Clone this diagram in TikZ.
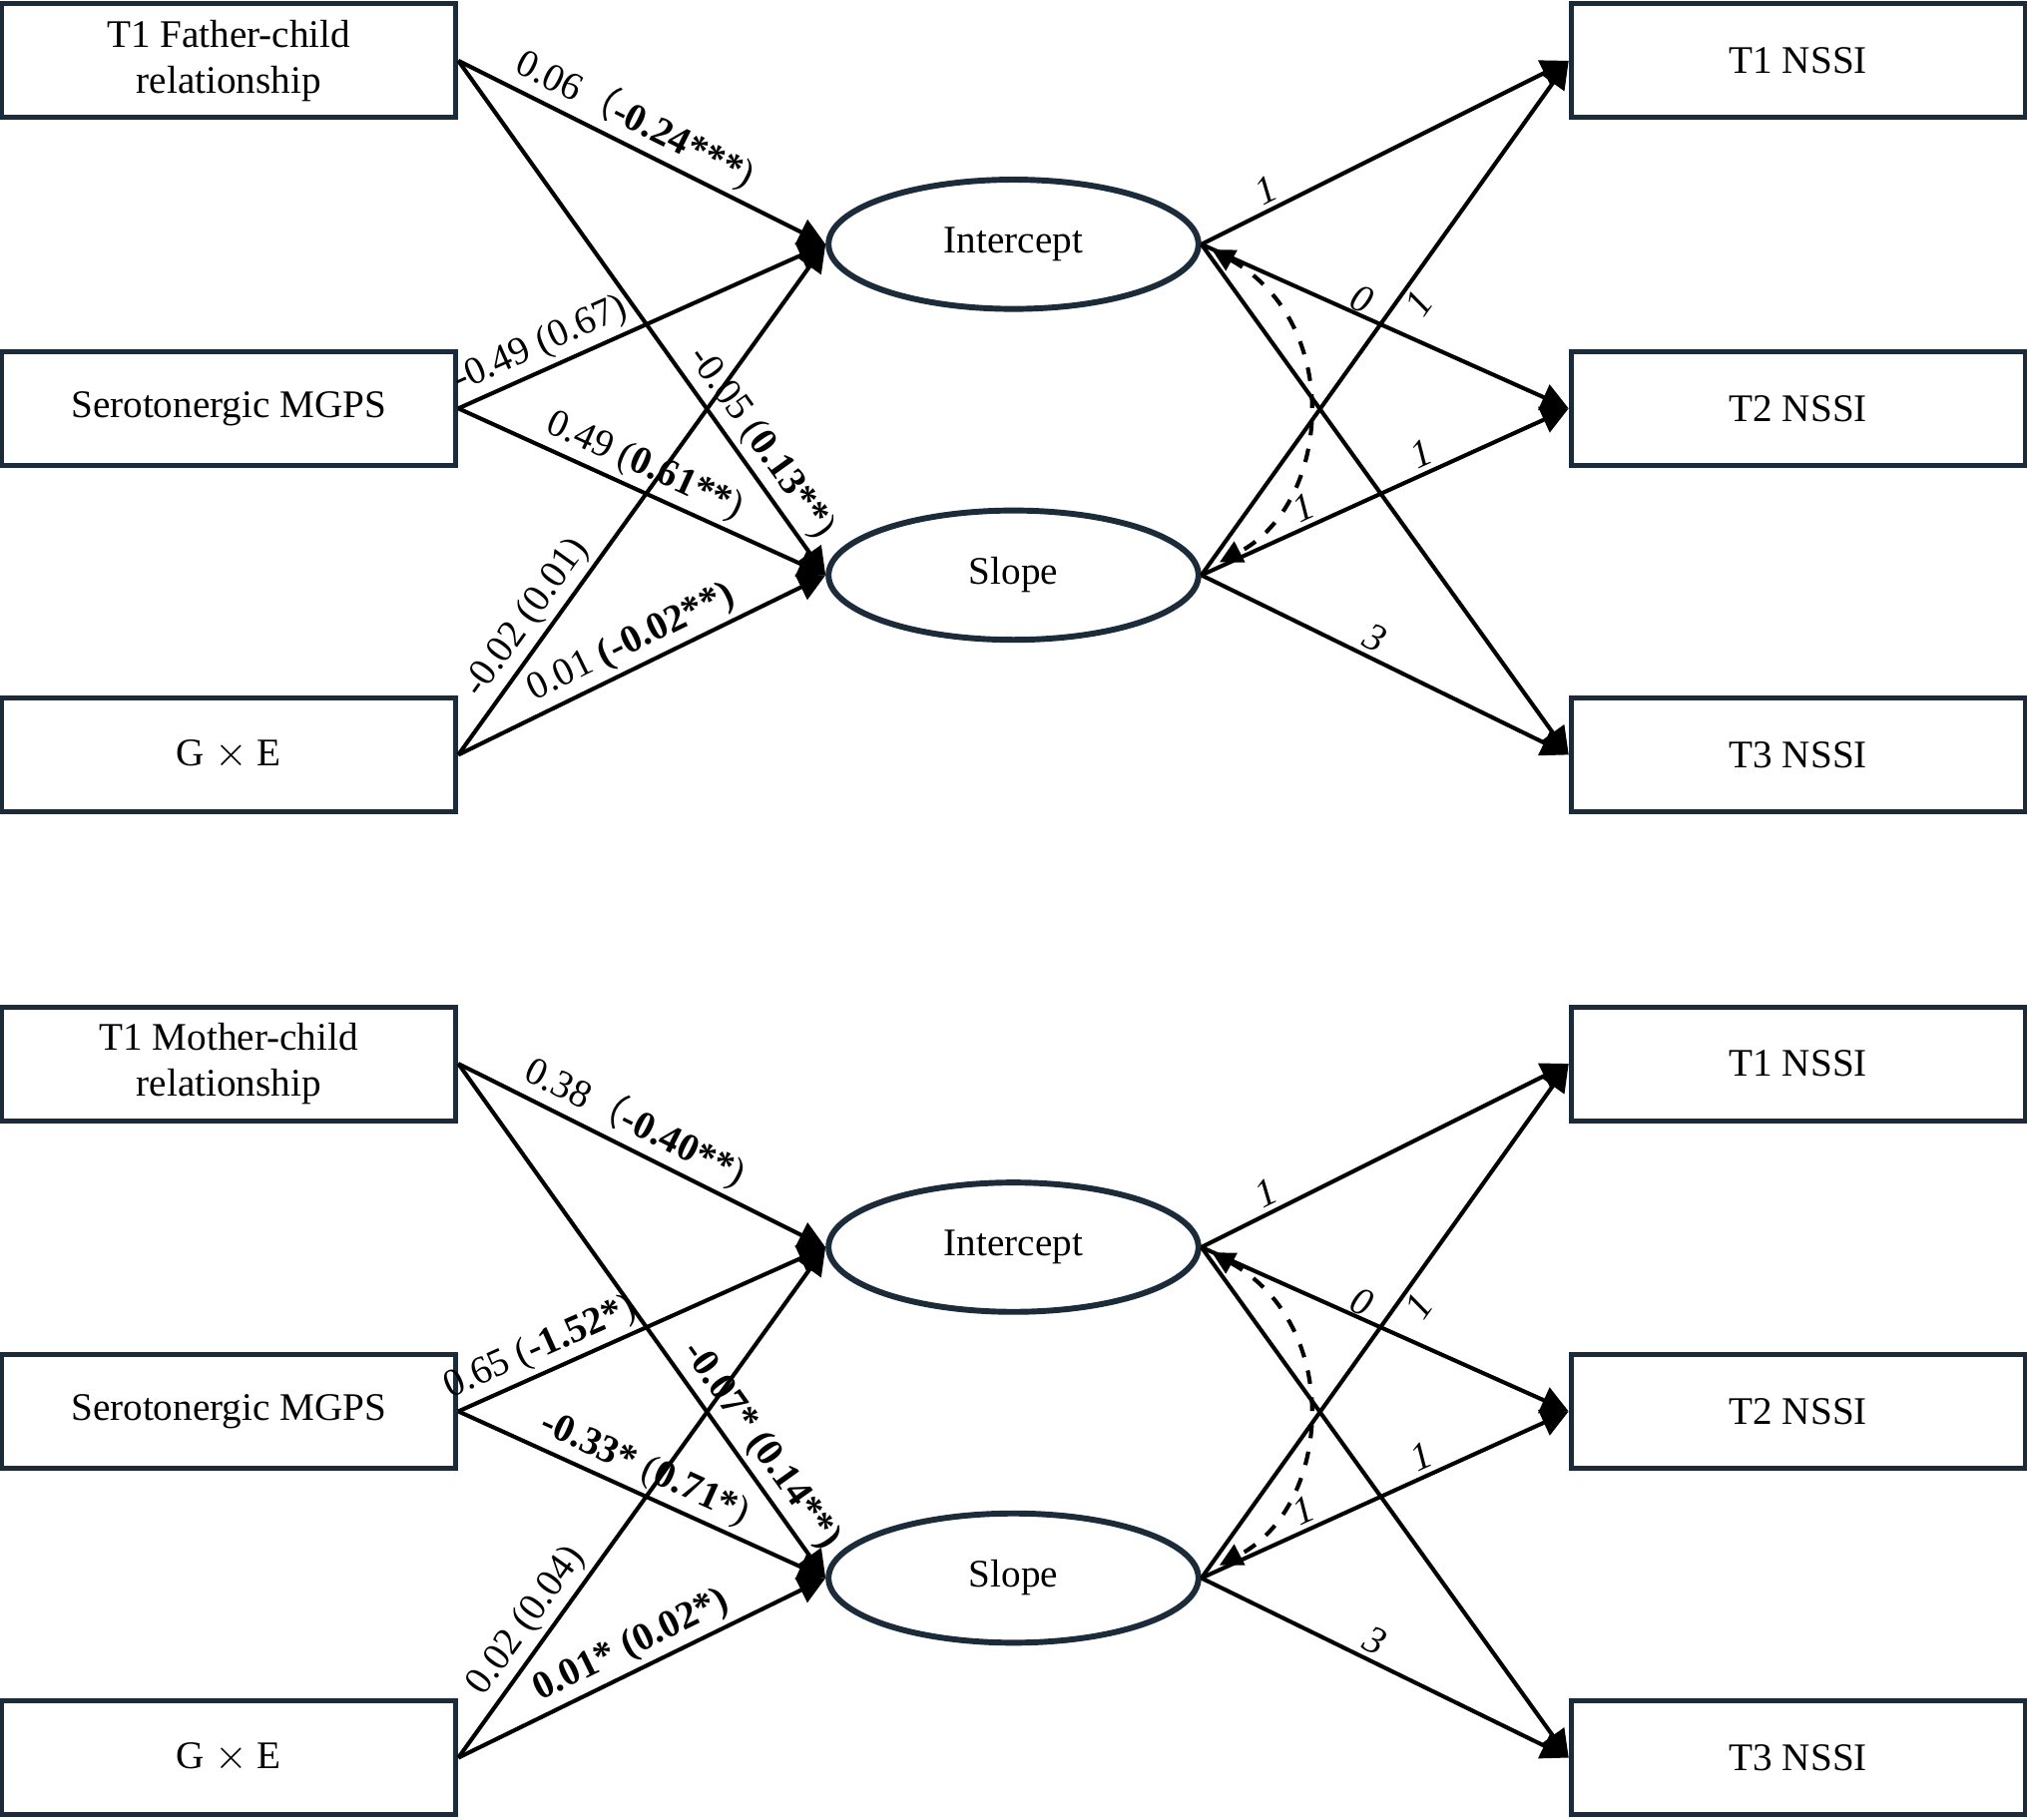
\documentclass[tikz,border=0pt]{standalone}
\usepackage{fontspec}
\setmainfont{Liberation Serif}
\newfontfamily\cjk{Noto Sans CJK SC}
\usetikzlibrary{arrows.meta,shapes.geometric,calc}
\definecolor{navy}{HTML}{1C2B3A}
\begin{document}
\fontsize{8.6}{10}\selectfont
\begin{tikzpicture}[x=0.01cm,y=-0.01cm,
  box/.style={draw=navy,line width=1.1pt,rectangle,minimum width=3.51cm,minimum height=0.88cm,align=center,inner sep=0pt},
  lat/.style={draw=navy,line width=1.3pt,ellipse,minimum width=2.86cm,minimum height=1cm},
  path/.style={line width=0.9pt,-{Triangle[length=6pt,width=6pt]}},
  lab/.style={sloped,above,inner sep=1pt}]
\useasboundingbox (0,0) rectangle (1568,1408);

\foreach \off/\parent/\ca/\cb/\cc/\cd/\ce/\cf in {
  0/{T1 Father-child\\relationship}/{0.06{\cjk （}\textbf{-0.24***})}/{-0.05 (\textbf{0.13**})}/{-0.49 (0.67)}/{0.49 (\textbf{0.61**})}/{-0.02 (0.01)}/{0.01 \textbf{(-0.02**)}},
  776/{T1 Mother-child\\relationship}/{0.38{\cjk （}\textbf{-0.40**})}/{\textbf{-0.07* (0.14**)}}/{0.65 (\textbf{-1.52*})}/{\textbf{-0.33*} (\textbf{0.71*})}/{0.02 (0.04)}/{\textbf{0.01* (0.02*)}}}{
  \begin{scope}[yshift=-\off*0.01cm]
  % observed predictors
  \node[box] (par) at (177,47) {\parent};
  \node[box] (gene) at (177,316) {Serotonergic MGPS};
  \node[box] (gxe) at (177,584) {G $\times$ E};
  % outcomes
  \node[box] (t1) at (1391,47) {T1 NSSI};
  \node[box] (t2) at (1391,316) {T2 NSSI};
  \node[box] (t3) at (1391,584) {T3 NSSI};
  % growth factors
  \node[lat] (int) at (784,189) {Intercept};
  \node[lat] (slo) at (784,445) {Slope};

  % predictor paths
  \draw[path] (par.east) -- node[lab,pos=0.45] {\ca} (int.west);
  \draw[path] (par.east) -- node[lab,pos=0.77] {\cb} (slo.west);
  \draw[path] (gene.east) -- node[lab,pos=0.25] {\cc} (int.west);
  \draw[path] (gene.east) -- node[lab,pos=0.48] {\cd} (slo.west);
  \draw[path] (gxe.east) -- node[lab,pos=0.24] {\ce} (int.west);
  \draw[path] (gxe.east) -- node[lab,pos=0.5] {\cf} (slo.west);

  % loadings
  \draw[path] (int.east) -- node[lab,pos=0.2] {\itshape 1} (t1.west);
  \draw[path] (int.east) -- node[lab,pos=0.42,inner sep=0pt] {\itshape 0} (t2.west);
  \draw[path] (int.east) -- (t3.west);
  \draw[path] (slo.east) -- node[sloped,below,pos=0.55,inner sep=1pt] {\itshape 1} (t1.west);
  \draw[path] (slo.east) -- node[lab,pos=0.3] {\itshape 1} node[lab,pos=0.62] {\itshape 1} (t2.west);
  \draw[path] (slo.east) -- node[lab,pos=0.45] {\itshape 3} (t3.west);

  % covariance
  \draw[line width=0.9pt,dashed,{Triangle[length=5pt,width=5pt]}-{Triangle[length=5pt,width=5pt]}]
    ($(int.east)+(8,4)$) .. controls (1040,250) and (1030,390) .. ($(slo.east)+(14,-10)$);
  \end{scope}
}
\end{tikzpicture}
\end{document}
